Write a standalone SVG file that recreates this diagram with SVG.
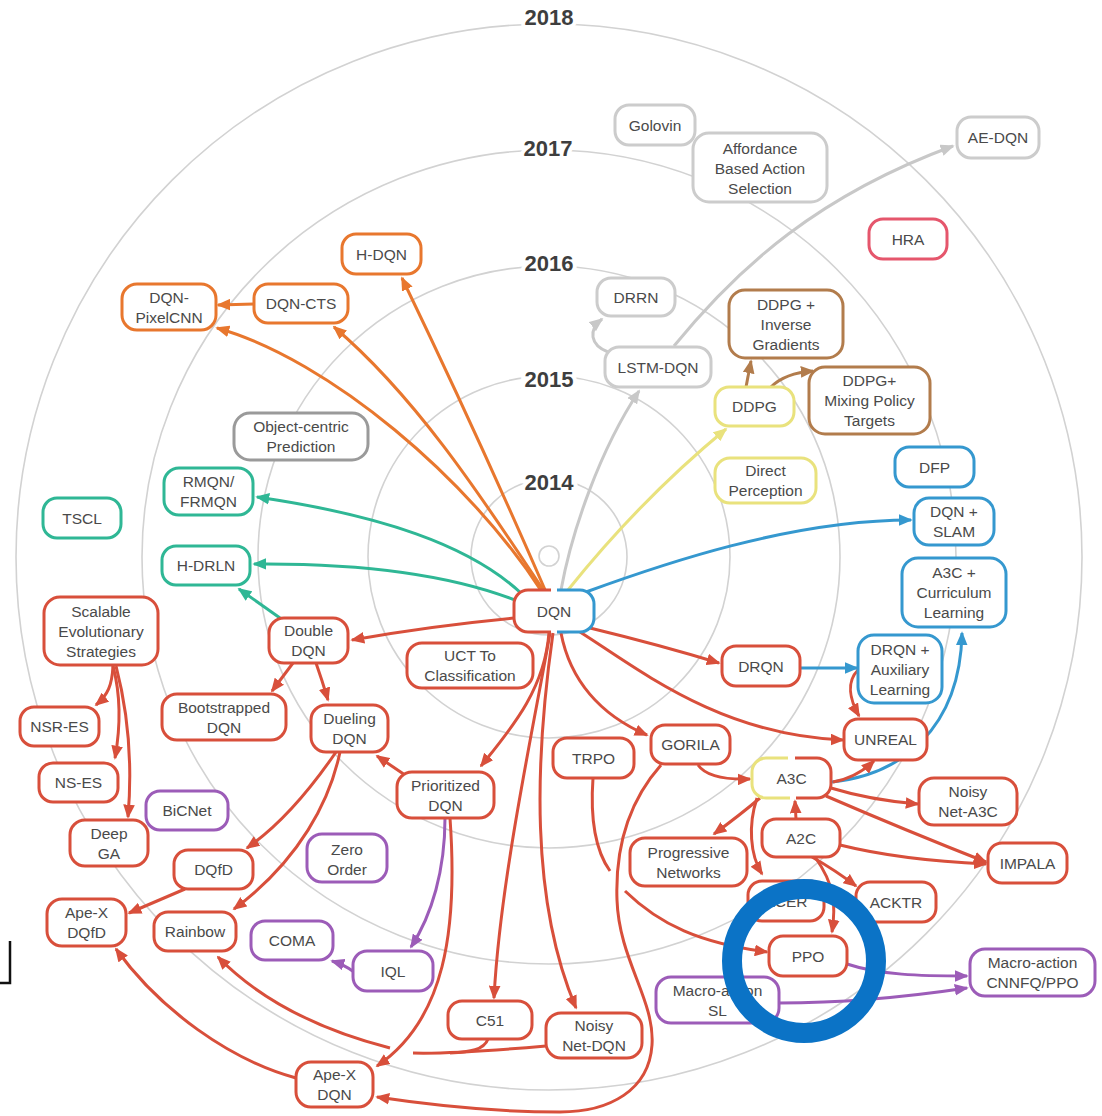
<svg xmlns="http://www.w3.org/2000/svg" width="1102" height="1116" viewBox="0 0 1102 1116">
<style>
.ring{fill:none;stroke:#d2d2d2;stroke-width:1.6}
.yr{font-family:"Liberation Sans",Arial,sans-serif;font-weight:bold;font-size:22px;fill:#3e3e3e;text-anchor:middle;stroke:#fff;stroke-width:8;paint-order:stroke}
.n rect{fill:#fff;stroke-width:3}
.n text{font-family:"Liberation Sans",Arial,sans-serif;font-size:15.5px;fill:#4a4a4a;text-anchor:middle}
.red rect{stroke:#d84f3b}.org rect{stroke:#e8772e}.tea rect{stroke:#2fb795}.gry rect{stroke:#cccccc}.dgr rect{stroke:#9a9a9a}
.yel rect{stroke:#e9e27d}.brn rect{stroke:#b27c4c}.blu rect{stroke:#3598cf}.pur rect{stroke:#9c5cb8}.pnk rect{stroke:#e5566c}
.c path{fill:none;stroke-width:3}
.cr{stroke:#d84f3b}.co{stroke:#e8772e}.ct{stroke:#2fb795}.cg{stroke:#c8c8c8}.cy{stroke:#e9e27d}.cb{stroke:#b27c4c}.cu{stroke:#3598cf}.cp{stroke:#9c5cb8}
</style>
<defs>
<marker id="mr" viewBox="0 0 12 10" markerUnits="userSpaceOnUse" markerWidth="14" markerHeight="12" refX="10.5" refY="5" orient="auto"><path d="M0,0L12,5L0,10z" fill="#d84f3b"/></marker>
<marker id="mo" viewBox="0 0 12 10" markerUnits="userSpaceOnUse" markerWidth="14" markerHeight="12" refX="10.5" refY="5" orient="auto"><path d="M0,0L12,5L0,10z" fill="#e8772e"/></marker>
<marker id="mt" viewBox="0 0 12 10" markerUnits="userSpaceOnUse" markerWidth="14" markerHeight="12" refX="10.5" refY="5" orient="auto"><path d="M0,0L12,5L0,10z" fill="#2fb795"/></marker>
<marker id="mg" viewBox="0 0 12 10" markerUnits="userSpaceOnUse" markerWidth="14" markerHeight="12" refX="10.5" refY="5" orient="auto"><path d="M0,0L12,5L0,10z" fill="#c8c8c8"/></marker>
<marker id="my" viewBox="0 0 12 10" markerUnits="userSpaceOnUse" markerWidth="14" markerHeight="12" refX="10.5" refY="5" orient="auto"><path d="M0,0L12,5L0,10z" fill="#e9e27d"/></marker>
<marker id="mb" viewBox="0 0 12 10" markerUnits="userSpaceOnUse" markerWidth="14" markerHeight="12" refX="10.5" refY="5" orient="auto"><path d="M0,0L12,5L0,10z" fill="#b27c4c"/></marker>
<marker id="mu" viewBox="0 0 12 10" markerUnits="userSpaceOnUse" markerWidth="14" markerHeight="12" refX="10.5" refY="5" orient="auto"><path d="M0,0L12,5L0,10z" fill="#3598cf"/></marker>
<marker id="mp" viewBox="0 0 12 10" markerUnits="userSpaceOnUse" markerWidth="14" markerHeight="12" refX="10.5" refY="5" orient="auto"><path d="M0,0L12,5L0,10z" fill="#9c5cb8"/></marker>
</defs>
<rect width="1102" height="1116" fill="#fff"/>
<g id="rings">
<circle class="ring" cx="549" cy="556" r="10"/>
<circle class="ring" cx="549" cy="557" r="78"/>
<circle class="ring" cx="549" cy="557" r="181"/>
<circle class="ring" cx="549" cy="557" r="291"/>
<circle class="ring" cx="549" cy="557" r="407"/>
<circle class="ring" cx="549" cy="557" r="533"/>
<text class="yr" x="549" y="25">2018</text>
<text class="yr" x="548" y="156">2017</text>
<text class="yr" x="549" y="271">2016</text>
<text class="yr" x="549" y="387">2015</text>
<text class="yr" x="549" y="490">2014</text>
</g>
<g id="connectors" class="c">
<path class="co" d="M546,592 Q480,440 402,278" marker-end="url(#mo)"/>
<path class="co" d="M544,591 C490,510 420,400 334,327" marker-end="url(#mo)"/>
<path class="co" d="M542,592 C470,480 330,360 217,328" marker-end="url(#mo)"/>
<path class="co" d="M254,304 L218,305" marker-end="url(#mo)"/>
<path class="ct" d="M522,594 C470,545 380,515 257,497" marker-end="url(#mt)"/>
<path class="ct" d="M515,600 C450,575 360,563 254,564" marker-end="url(#mt)"/>
<path class="ct" d="M280,618 L239,589" marker-end="url(#mt)"/>
<path class="cg" d="M561,590 C572,530 600,450 639,391" marker-end="url(#mg)"/>
<path class="cg" d="M674,346 C740,265 820,195 953,146" marker-end="url(#mg)"/>
<path class="cg" d="M608,352 C590,345 588,330 602,319" marker-end="url(#mg)"/>
<path class="cy" d="M568,590 Q640,500 726,429" marker-end="url(#my)"/>
<path class="cb" d="M746,387 L751,361" marker-end="url(#mb)"/>
<path class="cb" d="M771,387 Q785,373 813,371" marker-end="url(#mb)"/>
<path class="cu" d="M586,592 C660,565 790,520 911,520" marker-end="url(#mu)"/>
<path class="cu" d="M800,668 L857,668" marker-end="url(#mu)"/>
<path class="cu" d="M832,782 C900,775 960,730 962,633" marker-end="url(#mu)"/>
<path class="cr" d="M515,618 Q430,626 352,640" marker-end="url(#mr)"/>
<path class="cr" d="M549,632 C545,690 510,730 481,766" marker-end="url(#mr)"/>
<path class="cr" d="M550,633 C535,720 500,880 494,998" marker-end="url(#mr)"/>
<path class="cr" d="M553,633 C535,760 530,900 576,1008" marker-end="url(#mr)"/>
<path class="cr" d="M561,633 C570,680 600,715 647,735" marker-end="url(#mr)"/>
<path class="cr" d="M590,628 Q660,645 719,663" marker-end="url(#mr)"/>
<path class="cr" d="M580,632 C640,670 720,735 843,740" marker-end="url(#mr)"/>
<path class="cr" d="M858,670 C846,682 850,700 859,716" marker-end="url(#mr)"/>
<path class="cr" d="M698,765 C705,775 720,780 750,779" marker-end="url(#mr)"/>
<path class="cr" d="M833,782 Q856,778 874,761" marker-end="url(#mr)"/>
<path class="cr" d="M831,788 Q870,800 918,804" marker-end="url(#mr)"/>
<path class="cr" d="M826,796 C870,815 930,840 986,862" marker-end="url(#mr)"/>
<path class="cr" d="M840,845 Q900,860 986,864" marker-end="url(#mr)"/>
<path class="cr" d="M796,819 L795,801" marker-end="url(#mr)"/>
<path class="cr" d="M760,798 Q740,815 714,834" marker-end="url(#mr)"/>
<path class="cr" d="M757,798 C748,825 750,855 762,874" marker-end="url(#mr)"/>
<path class="cr" d="M812,857 Q835,870 856,886" marker-end="url(#mr)"/>
<path class="cr" d="M815,857 C835,885 836,905 832,932" marker-end="url(#mr)"/>
<path class="cr" d="M593,778 C590,820 595,850 610,871"/>
<path class="cr" d="M625,891 C660,925 700,943 767,952" marker-end="url(#mr)"/>
<path class="cr" d="M661,765 C630,800 615,845 617,900 C619,960 655,1000 652,1045 C649,1090 610,1112 560,1112 C500,1112 430,1105 377,1097" marker-end="url(#mr)"/>
<path class="cr" d="M450,818 C458,930 445,1020 377,1066" marker-end="url(#mr)"/>
<path class="cr" d="M546,1046 C500,1050 450,1054 413,1053"/>
<path class="cr" d="M488,1039 C484,1050 470,1052 450,1053"/>
<path class="cr" d="M390,1048 C320,1030 260,1000 218,957" marker-end="url(#mr)"/>
<path class="cr" d="M340,752 C330,800 300,860 234,909" marker-end="url(#mr)"/>
<path class="cr" d="M336,752 C310,790 280,825 247,848" marker-end="url(#mr)"/>
<path class="cr" d="M405,775 L377,756" marker-end="url(#mr)"/>
<path class="cp" d="M445,818 C445,870 432,915 411,947" marker-end="url(#mp)"/>
<path class="cp" d="M354,972 Q345,965 332,961" marker-end="url(#mp)"/>
<path class="cr" d="M185,889 L129,913" marker-end="url(#mr)"/>
<path class="cr" d="M296,1078 C230,1060 160,1010 116,949" marker-end="url(#mr)"/>
<path class="cr" d="M293,663 L272,691" marker-end="url(#mr)"/>
<path class="cr" d="M316,663 Q322,680 328,700" marker-end="url(#mr)"/>
<path class="cr" d="M113,666 C112,685 108,695 96,705" marker-end="url(#mr)"/>
<path class="cr" d="M113,666 C122,700 120,730 115,758" marker-end="url(#mr)"/>
<path class="cr" d="M116,666 C130,720 132,770 128,817" marker-end="url(#mr)"/>
<path class="cp" d="M847,964 C880,975 920,976 967,976" marker-end="url(#mp)"/>
<path class="cp" d="M779,1003 C850,1003 920,995 967,988" marker-end="url(#mp)"/>
</g>
<g id="n-golovin" class="n gry"><rect x="615" y="105" width="80" height="40" rx="14"/><text x="655" y="130.5">Golovin</text></g>
<g id="n-affordance" class="n gry"><rect x="693" y="133" width="134" height="69" rx="16"/><text x="760" y="154">Affordance</text><text x="760" y="174">Based Action</text><text x="760" y="194">Selection</text></g>
<g id="n-aedqn" class="n gry"><rect x="957" y="117" width="82" height="41" rx="14"/><text x="998" y="143">AE-DQN</text></g>
<g id="n-hra" class="n pnk"><rect x="869" y="219" width="78" height="40" rx="14"/><text x="908" y="244.5">HRA</text></g>
<g id="n-hdqn" class="n org"><rect x="342" y="234" width="79" height="40" rx="14"/><text x="381.5" y="259.5">H-DQN</text></g>
<g id="n-pixelcnn" class="n org"><rect x="122" y="284" width="94" height="46" rx="15"/><text x="169" y="302.5">DQN-</text><text x="169" y="322.5">PixelCNN</text></g>
<g id="n-dqncts" class="n org"><rect x="254" y="284" width="94" height="39" rx="14"/><text x="301" y="309">DQN-CTS</text></g>
<g id="n-objcentric" class="n dgr"><rect x="234" y="413" width="134" height="47" rx="16"/><text x="301" y="432">Object-centric</text><text x="301" y="452">Prediction</text></g>
<g id="n-rmqn" class="n tea"><rect x="164" y="468" width="89" height="47" rx="15"/><text x="208.5" y="487">RMQN/</text><text x="208.5" y="507">FRMQN</text></g>
<g id="n-tscl" class="n tea"><rect x="43" y="498" width="78" height="40" rx="14"/><text x="82" y="523.5">TSCL</text></g>
<g id="n-hdrln" class="n tea"><rect x="162" y="546" width="88" height="39" rx="14"/><text x="206" y="571">H-DRLN</text></g>
<g id="n-scalablees" class="n red"><rect x="44" y="597" width="114" height="68" rx="16"/><text x="101" y="616.5">Scalable</text><text x="101" y="636.5">Evolutionary</text><text x="101" y="656.5">Strategies</text></g>
<g id="n-doubledqn" class="n red"><rect x="269" y="618" width="79" height="45" rx="15"/><text x="308.5" y="636">Double</text><text x="308.5" y="656">DQN</text></g>
<g id="n-bootstrapped" class="n red"><rect x="162" y="694" width="124" height="46" rx="15"/><text x="224" y="712.5">Bootstrapped</text><text x="224" y="732.5">DQN</text></g>
<g id="n-dueling" class="n red"><rect x="311" y="705" width="77" height="47" rx="15"/><text x="349.5" y="724">Dueling</text><text x="349.5" y="744">DQN</text></g>
<g id="n-nsres" class="n red"><rect x="20" y="707" width="79" height="39" rx="14"/><text x="59.5" y="732">NSR-ES</text></g>
<g id="n-nses" class="n red"><rect x="39" y="763" width="79" height="39" rx="14"/><text x="78.5" y="788">NS-ES</text></g>
<g id="n-bicnet" class="n pur"><rect x="146" y="791" width="82" height="39" rx="14"/><text x="187" y="816">BiCNet</text></g>
<g id="n-deepga" class="n red"><rect x="70" y="820" width="78" height="46" rx="15"/><text x="109" y="838.5">Deep</text><text x="109" y="858.5">GA</text></g>
<g id="n-dqfd" class="n red"><rect x="174" y="850" width="79" height="39" rx="14"/><text x="213.5" y="875">DQfD</text></g>
<g id="n-zeroorder" class="n pur"><rect x="307" y="834" width="80" height="48" rx="15"/><text x="347" y="854.5">Zero</text><text x="347" y="874.5">Order</text></g>
<g id="n-apexdqfd" class="n red"><rect x="47" y="899" width="79" height="47" rx="15"/><text x="86.5" y="918">Ape-X</text><text x="86.5" y="938">DQfD</text></g>
<g id="n-rainbow" class="n red"><rect x="154" y="912" width="82" height="39" rx="14"/><text x="195" y="937">Rainbow</text></g>
<g id="n-coma" class="n pur"><rect x="251" y="921" width="82" height="39" rx="14"/><text x="292" y="946">COMA</text></g>
<g id="n-iql" class="n pur"><rect x="353" y="951" width="80" height="40" rx="14"/><text x="393" y="976.5">IQL</text></g>
<g id="n-apexdqn" class="n red"><rect x="296" y="1062" width="77" height="45" rx="15"/><text x="334.5" y="1080">Ape-X</text><text x="334.5" y="1100">DQN</text></g>
<g id="n-c51" class="n red"><rect x="448" y="1001" width="84" height="38" rx="14"/><text x="490" y="1025.5">C51</text></g>
<g id="n-noisydqn" class="n red"><rect x="546" y="1013" width="96" height="45" rx="15"/><text x="594" y="1031">Noisy</text><text x="594" y="1051">Net-DQN</text></g>
<g id="n-progressive" class="n red"><rect x="630" y="838" width="117" height="48" rx="15"/><text x="688.5" y="857.5">Progressive</text><text x="688.5" y="877.5">Networks</text></g>
<g id="n-macrosl" class="n pur"><rect x="656" y="977" width="123" height="46" rx="15"/><text x="717.5" y="995.5">Macro-action</text><text x="717.5" y="1015.5">SL</text></g>
<g id="n-acer" class="n red"><rect x="748" y="881" width="76" height="40" rx="14"/><text x="786" y="906.5">ACER</text></g>
<g id="n-acktr" class="n red"><rect x="856" y="882" width="80" height="40" rx="14"/><text x="896" y="907.5">ACKTR</text></g>
<g id="n-ppo" class="n red"><rect x="769" y="936" width="78" height="40" rx="14"/><text x="808" y="961.5">PPO</text></g>
<g id="n-impala" class="n red"><rect x="988" y="843" width="79" height="40" rx="14"/><text x="1027.5" y="868.5">IMPALA</text></g>
<g id="n-macrocnnfq" class="n pur"><rect x="970" y="949" width="125" height="47" rx="15"/><text x="1032.5" y="968">Macro-action</text><text x="1032.5" y="988">CNNFQ/PPO</text></g>
<g id="n-a2c" class="n red"><rect x="762" y="819" width="78" height="38" rx="14"/><text x="801" y="843.5">A2C</text></g>
<g id="n-a3c" class="n"><rect x="752" y="758" width="79" height="40" rx="14" stroke="none"/><path d="M788,758 H766 A14,14 0 0 0 752,772 V784 A14,14 0 0 0 766,798 H790" fill="none" stroke="#e9e27d" stroke-width="3"/><path d="M795,758 H817 A14,14 0 0 1 831,772 V784 A14,14 0 0 1 817,798 H796" fill="none" stroke="#d84f3b" stroke-width="3"/><text x="791.5" y="783.5">A3C</text></g>
<g id="n-noisya3c" class="n red"><rect x="919" y="778" width="98" height="47" rx="15"/><text x="968" y="797">Noisy</text><text x="968" y="817">Net-A3C</text></g>
<g id="n-unreal" class="n red"><rect x="844" y="719" width="83" height="41" rx="14"/><text x="885.5" y="745">UNREAL</text></g>
<g id="n-drqnaux" class="n blu"><rect x="858" y="635" width="84" height="68" rx="16"/><text x="900" y="654.5">DRQN +</text><text x="900" y="674.5">Auxiliary</text><text x="900" y="694.5">Learning</text></g>
<g id="n-a3ccurr" class="n blu"><rect x="902" y="558" width="104" height="69" rx="16"/><text x="954" y="578">A3C +</text><text x="954" y="598">Curriculum</text><text x="954" y="618">Learning</text></g>
<g id="n-drqn" class="n red"><rect x="722" y="646" width="78" height="40" rx="14"/><text x="761" y="671.5">DRQN</text></g>
<g id="n-dqnslam" class="n blu"><rect x="914" y="498" width="80" height="47" rx="15"/><text x="954" y="517">DQN +</text><text x="954" y="537">SLAM</text></g>
<g id="n-dfp" class="n blu"><rect x="895" y="447" width="79" height="40" rx="14"/><text x="934.5" y="472.5">DFP</text></g>
<g id="n-ddpginv" class="n brn"><rect x="729" y="290" width="114" height="68" rx="16"/><text x="786" y="309.5">DDPG +</text><text x="786" y="329.5">Inverse</text><text x="786" y="349.5">Gradients</text></g>
<g id="n-ddpgmix" class="n brn"><rect x="809" y="367" width="121" height="67" rx="16"/><text x="869.5" y="386">DDPG+</text><text x="869.5" y="406">Mixing Policy</text><text x="869.5" y="426">Targets</text></g>
<g id="n-ddpg" class="n yel"><rect x="715" y="387" width="79" height="39" rx="14"/><text x="754.5" y="412">DDPG</text></g>
<g id="n-directperc" class="n yel"><rect x="715" y="458" width="101" height="45" rx="15"/><text x="765.5" y="476">Direct</text><text x="765.5" y="496">Perception</text></g>
<g id="n-drrn" class="n gry"><rect x="597" y="278" width="78" height="38" rx="14"/><text x="636" y="302.5">DRRN</text></g>
<g id="n-lstmdqn" class="n gry"><rect x="605" y="347" width="106" height="40" rx="14"/><text x="658" y="372.5">LSTM-DQN</text></g>
<g id="n-dqn" class="n"><rect x="514" y="590" width="80" height="42" rx="14" stroke="none"/><path d="M551,590 H528 A14,14 0 0 0 514,604 V618 A14,14 0 0 0 528,632 H551" fill="none" stroke="#d84f3b" stroke-width="3"/><path d="M557,590 H580 A14,14 0 0 1 594,604 V618 A14,14 0 0 1 580,632 H557" fill="none" stroke="#3598cf" stroke-width="3"/><text x="554" y="616.5">DQN</text></g>
<g id="n-uct" class="n red"><rect x="407" y="643" width="126" height="45" rx="15"/><text x="470" y="661">UCT To</text><text x="470" y="681">Classification</text></g>
<g id="n-prioritized" class="n red"><rect x="397" y="772" width="97" height="46" rx="15"/><text x="445.5" y="790.5">Prioritized</text><text x="445.5" y="810.5">DQN</text></g>
<g id="n-trpo" class="n red"><rect x="553" y="738" width="81" height="40" rx="14"/><text x="593.5" y="763.5">TRPO</text></g>
<g id="n-gorila" class="n red"><rect x="651" y="725" width="79" height="39" rx="14"/><text x="690.5" y="750">GORILA</text></g>
<circle cx="804" cy="961" r="72" fill="none" stroke="#0b73c6" stroke-width="20"/>
<path d="M0,983 H10 V941" fill="none" stroke="#111" stroke-width="2.5"/>
</svg>
